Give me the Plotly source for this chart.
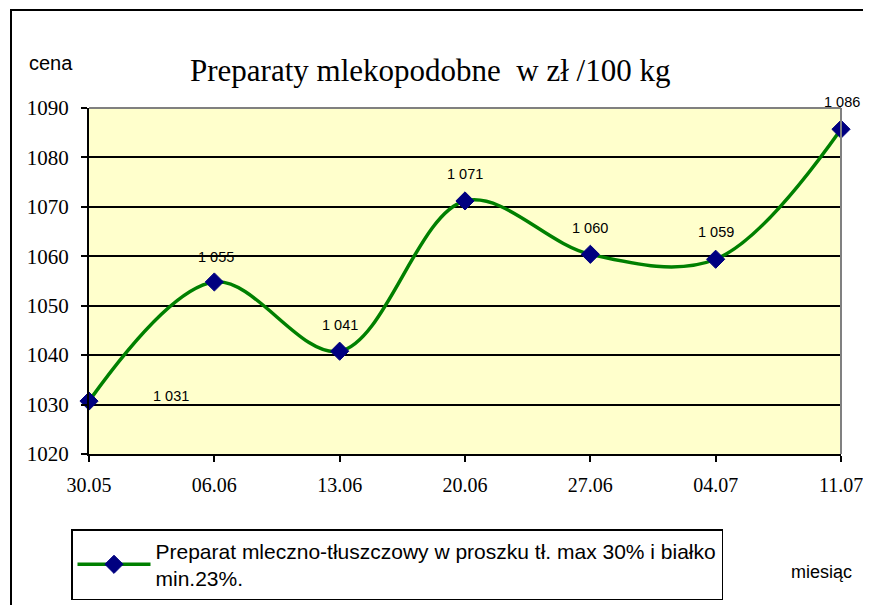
import plotly.graph_objects as go

categories = ["30.05", "06.06", "13.06", "20.06", "27.06", "04.07", "11.07"]
prices = [1030.7, 1054.8, 1040.8, 1071.2, 1060.4, 1059.4, 1085.7]
series_name = "Preparat mleczno-tłuszczowy w proszku tł. max 30% i białko<br>min.23%."
y_ticks = [1020, 1030, 1040, 1050, 1060, 1070, 1080, 1090]

OFF = 8                      # browser body margin
PAGE_W, PAGE_H = 871, 605
W, H = PAGE_W - OFF, PAGE_H - OFF
PX0, PX1, PY0, PY1 = 89, 841, 108, 454   # plot area in page pixels
L, R, T, B = PX0 - OFF, PAGE_W - PX1, PY0 - OFF, PAGE_H - PY1
pw, ph = PX1 - PX0, PY1 - PY0


def px_x(p):
    return (p - PX0) / pw


def px_y(p):
    return (PY1 - p) / ph


def fmt(v):
    return f"{round(v):,}".replace(",", " ")


xs = list(range(len(categories)))

fig = go.Figure()
fig.add_trace(go.Scatter(
    x=xs, y=prices, mode="lines+markers", name=series_name,
    line=dict(color="#008000", width=3.5, shape="spline", smoothing=1.0),
    marker=dict(symbol="diamond", size=14, color="#000080",
                line=dict(color="#000080", width=1)),
    cliponaxis=False,
))

offsets = [(82, 5), (2, 25), (0, 26), (0, 27), (0, 26), (0, 27), (1, 27)]
for i, v in enumerate(prices):
    dx, dy = offsets[i]
    fig.add_annotation(x=xs[i], y=v, text=fmt(v), showarrow=False,
                       xshift=dx, yshift=dy,
                       font=dict(family="Liberation Sans, Arial", size=14.5, color="black"))

fig.update_layout(
    width=W, height=H,
    margin=dict(l=L, r=R, t=T, b=B, autoexpand=False),
    paper_bgcolor="white",
    plot_bgcolor="#FFFFCC",
    showlegend=True,
    legend=dict(
        x=px_x(71), y=px_y(529), xanchor="left", yanchor="top",
        bgcolor="white", bordercolor="black", borderwidth=1.5,
        font=dict(family="Liberation Sans, Arial", size=21, color="black"),
        itemwidth=73,
    ),
    xaxis=dict(
        range=[0, 6], tickvals=xs, ticktext=categories,
        showgrid=False, zeroline=False,
        showline=True, linecolor="black", linewidth=2,
        ticks="outside", ticklen=6, tickcolor="black", tickwidth=1.5,
        ticklabelstandoff=6,
        tickfont=dict(family="Liberation Serif, Times New Roman", size=20, color="black"),
    ),
    yaxis=dict(
        range=[1020, 1090], tickvals=y_ticks,
        showgrid=True, gridcolor="black", gridwidth=1.5,
        zeroline=False,
        showline=True, linecolor="black", linewidth=2,
        ticks="outside", ticklen=6, tickcolor="black", tickwidth=1.5,
        ticklabelstandoff=8,
        tickfont=dict(family="Liberation Serif, Times New Roman", size=21, color="black"),
    ),
)

# plot-area border (top & right grey)
fig.add_shape(type="line", xref="paper", yref="paper", x0=0, x1=1, y0=1, y1=1,
              line=dict(color="#808080", width=2))
fig.add_shape(type="line", xref="paper", yref="paper", x0=1, x1=1, y0=0, y1=1,
              line=dict(color="#808080", width=2))

# outer chart frame
fig.add_shape(type="rect", xref="paper", yref="paper",
              x0=px_x(11), x1=px_x(890), y0=px_y(625), y1=px_y(10),
              line=dict(color="black", width=2), layer="below")

fig.add_annotation(xref="paper", yref="paper", x=px_x(430), y=px_y(70),
                   text="Preparaty mlekopodobne  w zł /100 kg", showarrow=False,
                   xanchor="center", yanchor="middle",
                   font=dict(family="Liberation Serif, Times New Roman", size=31, color="black"))
fig.add_annotation(xref="paper", yref="paper", x=px_x(27), y=px_y(63),
                   text="cena", showarrow=False, xanchor="left", yanchor="middle",
                   font=dict(family="Liberation Sans, Arial", size=20, color="black"))
fig.add_annotation(xref="paper", yref="paper", x=px_x(789), y=px_y(572),
                   text="miesiąc", showarrow=False, xanchor="left", yanchor="middle",
                   font=dict(family="Liberation Sans, Arial", size=18, color="black"))

fig.write_html("out.html")
